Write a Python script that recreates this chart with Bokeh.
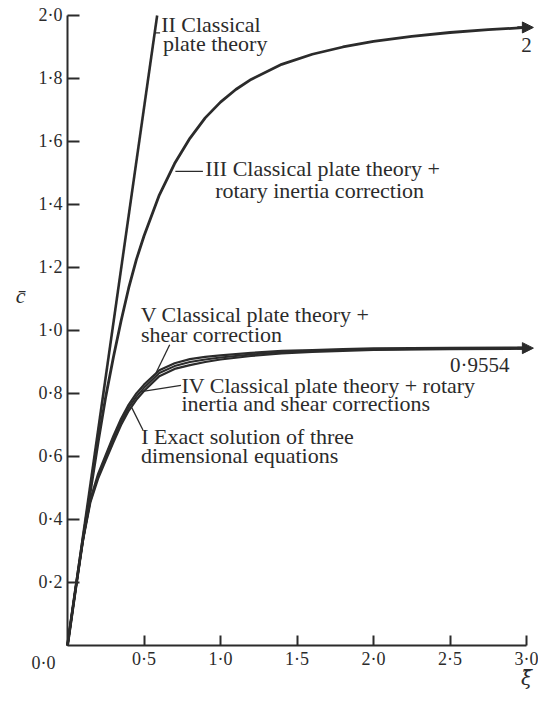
from bokeh.plotting import figure
from bokeh.models import (FixedTicker, CustomJSTickFormatter, Label, Arrow,
                          NormalHead, Range1d, LinearAxis)
from bokeh.embed import file_html
from bokeh.resources import INLINE

# ---- data ----
xi_II = [0.0, 0.586]
c_II = [0.0, 2.0]

xi_III = [0.0, 0.05, 0.1, 0.15, 0.2, 0.25, 0.3, 0.35, 0.4, 0.45, 0.5, 0.6, 0.7,
          0.8, 0.9, 1.0, 1.1, 1.2, 1.4, 1.6, 1.8, 2.0, 2.25, 2.5, 2.75, 3.0]
c_III = [0.0, 0.17, 0.335, 0.49, 0.645, 0.79, 0.915, 1.03, 1.135, 1.225, 1.30,
         1.43, 1.53, 1.61, 1.675, 1.725, 1.765, 1.797, 1.845, 1.877, 1.90,
         1.918, 1.934, 1.946, 1.955, 1.962]

xi_low = [0.0, 0.05, 0.1, 0.15, 0.2, 0.25, 0.3, 0.35, 0.4, 0.45, 0.5, 0.6, 0.7,
          0.8, 0.9, 1.0, 1.2, 1.4, 1.6, 1.8, 2.0, 2.5, 3.0]
c_I = [0.0, 0.17, 0.33, 0.455, 0.53, 0.588, 0.645, 0.70, 0.745, 0.78, 0.808,
       0.855, 0.878, 0.89, 0.90, 0.908, 0.919, 0.927, 0.932, 0.935, 0.938,
       0.941, 0.942]
c_IV = [0.0, 0.17, 0.332, 0.46, 0.537, 0.596, 0.655, 0.71, 0.755, 0.79, 0.818,
        0.865, 0.887, 0.9, 0.908, 0.914, 0.924, 0.931, 0.935, 0.938, 0.94,
        0.943, 0.944]
c_V = [0.0, 0.17, 0.335, 0.465, 0.545, 0.605, 0.665, 0.72, 0.765, 0.80, 0.828,
       0.874, 0.896, 0.909, 0.916, 0.921, 0.929, 0.935, 0.938, 0.941, 0.943,
       0.945, 0.946]

x_ticks = [0.5, 1.0, 1.5, 2.0, 2.5, 3.0]
y_ticks = [0.2, 0.4, 0.6, 0.8, 1.0, 1.2, 1.4, 1.6, 1.8, 2.0]
origin_label = "0·0"
label_2 = "2"
label_limit = "0·9554"
x_title = "\u03be\u0304"
y_title = "c\u0304"

INK = "#2b2b2b"
SERIF = "Liberation Serif"
BASE_SHIFT = 0.025   # lifts alphabetic-baseline labels onto the reference baselines

p = figure(width=538, height=690,
           x_range=Range1d(-0.4379, 3.0784), y_range=Range1d(-0.1429, 2.0476),
           output_backend="svg", toolbar_location=None,
           x_axis_location=None, y_axis_location=None, min_border=0)
p.outline_line_color = None
p.xgrid.visible = False
p.ygrid.visible = False
p.background_fill_color = "white"

fmt = CustomJSTickFormatter(code="return tick.toFixed(1).replace('.', '\u00b7');")
xaxis = LinearAxis(fixed_location=0)
yaxis = LinearAxis(fixed_location=0)
p.add_layout(xaxis, "below")
p.add_layout(yaxis, "left")
for ax, ticks, tin, bnd, so in ((xaxis, x_ticks, 10, (0, 3.0), 4),
                                (yaxis, y_ticks, 12, (0, 2.0), 5)):
    ax.ticker = FixedTicker(ticks=ticks)
    ax.formatter = fmt
    ax.bounds = bnd
    ax.major_tick_in = tin
    ax.major_tick_out = 0
    ax.minor_tick_line_color = None
    ax.axis_line_width = 2
    ax.axis_line_color = INK
    ax.major_tick_line_width = 2
    ax.major_tick_line_color = INK
    ax.major_label_text_font = SERIF
    ax.major_label_text_font_size = "18px"
    ax.major_label_text_color = INK
    ax.major_label_standoff = so

# curves
p.line(xi_II, c_II, line_width=2.6, line_color=INK)
p.line(xi_III, c_III, line_width=2.8, line_color=INK)
p.line(xi_low, c_I, line_width=2.2, line_color=INK)
p.line(xi_low, c_IV, line_width=2.0, line_color=INK)
p.line(xi_low, c_V, line_width=2.2, line_color=INK)

# arrow heads at the asymptotic ends
for xs, ys in ((xi_III, c_III), (xi_low, c_IV)):
    p.add_layout(Arrow(end=NormalHead(size=11, fill_color=INK, line_color=INK),
                       x_start=xs[-1] - 0.06, y_start=ys[-1],
                       x_end=xs[-1] + 0.045, y_end=ys[-1],
                       line_color=INK, line_width=2.6))

# leader lines
leaders = [
    ([0.571, 0.605], [1.945, 1.945]),
    ([0.705, 0.885], [1.505, 1.505]),
    ([0.579, 0.668], [0.866, 0.955]),
    ([0.482, 0.742], [0.806, 0.826]),
    ([0.42, 0.493], [0.755, 0.684]),
]
for lx, ly in leaders:
    p.line(lx, ly, line_width=1.3, line_color=INK)

def lab(x, y, text, size="22px", align="left", baseline="alphabetic",
        style="normal", font=SERIF):
    if baseline == "alphabetic":
        y = y + BASE_SHIFT
    p.add_layout(Label(x=x, y=y, text=text, text_font=font, text_font_size=size,
                       text_color=INK, text_align=align, text_baseline=baseline,
                       text_font_style=style))

lab(0.612, 1.945, "II Classical")
lab(0.624, 1.886, "plate theory")
lab(0.9, 1.49, "III Classical plate theory +")
lab(0.965, 1.419, "rotary inertia correction")
lab(0.478, 1.0255, "V Classical plate theory +")
lab(0.48, 0.9625, "shear correction")
lab(0.745, 0.80, "IV Classical plate theory + rotary")
lab(0.745, 0.742, "inertia and shear corrections")
lab(0.482, 0.637, "I Exact solution of three")
lab(0.48, 0.578, "dimensional equations")
lab(x_ticks[-1], 1.905, label_2, size="21px", align="center", baseline="middle")
lab(2.5, 0.866, label_limit, size="21px")
lab(-0.157, -0.055, origin_label, size="18px", align="center", baseline="middle")
lab(-0.307, 1.11, y_title, size="22px", align="center", baseline="middle", style="italic")
lab(x_ticks[-1], -0.104, x_title, size="20px", align="center", baseline="middle",
    style="italic", font="DejaVu Serif")

with open("out.html", "w", encoding="utf-8") as f:
    f.write(file_html(p, INLINE))
